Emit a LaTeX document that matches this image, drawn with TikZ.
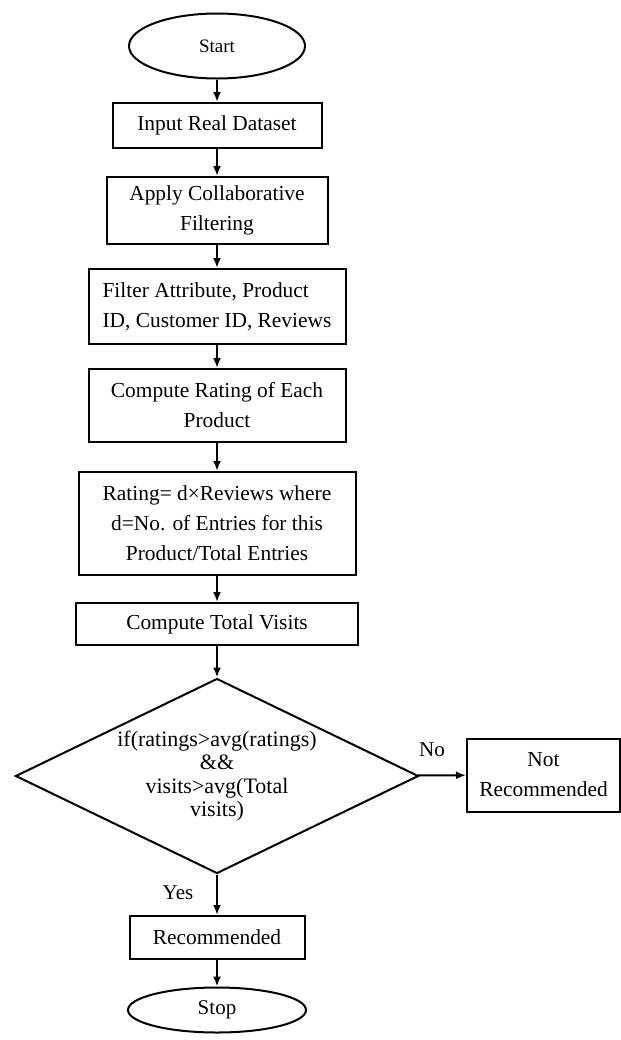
\documentclass[tikz,border=0pt]{standalone}
\usepackage{fontspec}
\setmainfont{Liberation Serif}
\usetikzlibrary{arrows.meta,positioning,shapes.geometric}

\begin{document}
\begin{tikzpicture}[x=0.5pt, y=-0.5pt,
    box/.style={draw, line width=1pt, inner sep=0pt, align=center, font=\fontsize{10.7}{15}\selectfont},
    term/.style={ellipse, draw, line width=1pt, inner sep=0pt, font=\fontsize{9.5}{11}\selectfont},
    arr/.style={-{Latex[length=5pt,width=4pt]}, line width=1pt}]
    \useasboundingbox (0,0) rectangle (621,1040);
    \node[term, minimum width=88pt, minimum height=32.5pt] (start) at (217,46) {Start};
    \node[box, minimum width=104.5pt, minimum height=22.5pt] (input) at (217,125.5) {Input Real Dataset};
    \node[box, minimum width=110.5pt, minimum height=33.5pt] (apply) at (217,210.5) {Apply Collaborative\\Filtering};
    \node[box, minimum width=128.5pt, minimum height=37.5pt, align=left] (filt) at (217,306.5) {Filter Attribute, Product\\ID, Customer ID, Reviews};
    \node[box, minimum width=128.5pt, minimum height=36.5pt] (rate) at (217,405.5) {Compute Rating of Each\\Product};
    \node[box, minimum width=138.5pt, minimum height=51.5pt] (formula) at (217,523.5) {Rating= d×Reviews where\\d=No. of Entries for this\\Product/Total Entries};
    \node[box, minimum width=141pt, minimum height=21pt] (visits) at (217,624) {Compute Total Visits};
    \node[diamond, draw, line width=1pt, inner sep=0pt, aspect=2.07, minimum width=201.5pt, minimum height=97.5pt,
          align=center, font=\fontsize{11}{11.6}\selectfont] (cond) at (217,776)
          {if(ratings>avg(ratings)\\\&\&\\visits>avg(Total\\visits)};
    \node[box, minimum width=76.5pt, minimum height=36.5pt] (notrec) at (543.5,775) {Not\\Recommended};
    \node[box, minimum width=87.5pt, minimum height=21.5pt] (rec) at (217,937.5) {Recommended};
    \node[term, minimum width=89pt, minimum height=22.5pt, font=\fontsize{10.5}{12}\selectfont] (stop) at (217,1010) {Stop};
    \node[font=\fontsize{10.5}{12}\selectfont] (yes) at (178,893) {Yes};
    \node[font=\fontsize{10.5}{12}\selectfont] (no) at (432,750) {No};
    \draw[arr] (start) -- (input);
    \draw[arr] (input) -- (apply);
    \draw[arr] (apply) -- (filt);
    \draw[arr] (filt) -- (rate);
    \draw[arr] (rate) -- (formula);
    \draw[arr] (formula) -- (visits);
    \draw[arr] (visits) -- (cond);
    \draw[arr] (cond) -- (notrec);
    \draw[arr] (cond) -- (rec);
    \draw[arr] (rec) -- (stop);
\end{tikzpicture}
\end{document}
